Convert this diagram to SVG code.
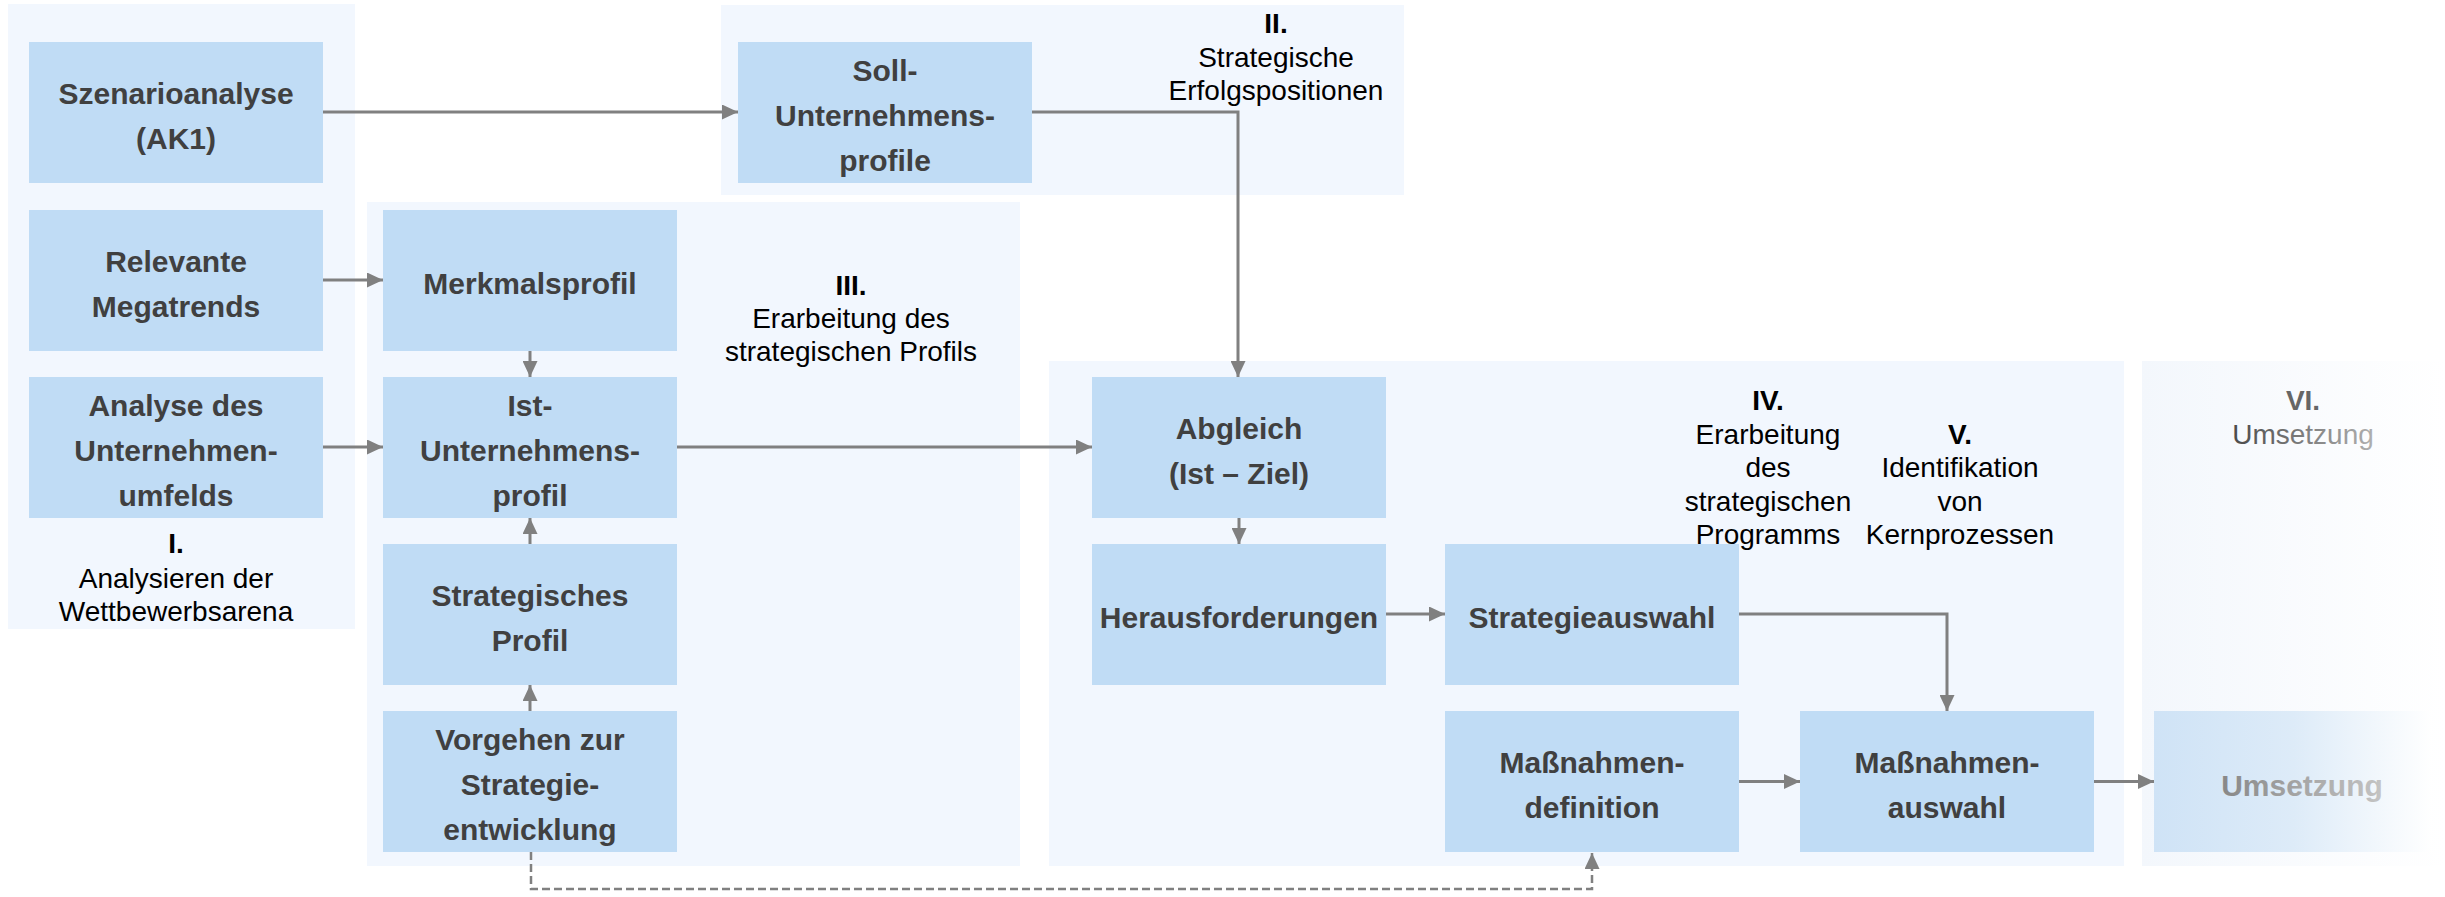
<svg xmlns="http://www.w3.org/2000/svg" width="2445" height="897" viewBox="0 0 2445 897">
<style>
.panel{fill:#F2F7FE}
.node{fill:#C0DCF5}
.nt{font-family:"Liberation Sans",Arial,sans-serif;font-weight:700;font-size:30px;fill:#404040;text-anchor:middle}
.lt{font-family:"Liberation Sans",Arial,sans-serif;font-size:28px;fill:#000;text-anchor:middle}
.lb{font-weight:700}
.conn{fill:none;stroke:#808080;stroke-width:3}
.dash{fill:none;stroke:#808080;stroke-width:2.5;stroke-dasharray:8 4}
</style>
<defs>
<marker id="ah" markerUnits="userSpaceOnUse" markerWidth="16" markerHeight="15" refX="16" refY="7.5" orient="auto">
<path d="M0,0 L16,7.5 L0,15 z" fill="#808080"/>
</marker>
<linearGradient id="gPanel" x1="0" y1="0" x2="1" y2="0">
<stop offset="0" stop-color="#F3F7FC"/>
<stop offset="1" stop-color="#FFFFFF"/>
</linearGradient>
<linearGradient id="gNode" x1="0" y1="0" x2="1" y2="0">
<stop offset="0" stop-color="#CFE3F6"/>
<stop offset="0.5" stop-color="#DDEBF8"/>
<stop offset="1" stop-color="#FFFFFF"/>
</linearGradient>
<linearGradient id="gText" x1="0" y1="0" x2="1" y2="0">
<stop offset="0" stop-color="#888888"/>
<stop offset="1" stop-color="#C4C4C4"/>
</linearGradient>
<linearGradient id="gLabel" x1="0" y1="0" x2="1" y2="0">
<stop offset="0" stop-color="#4A4A4A"/>
<stop offset="1" stop-color="#B0B0B0"/>
</linearGradient>
</defs>

<g id="panels">
<rect id="panel-I" class="panel" x="8" y="4" width="347" height="625"/>
<rect id="panel-II" class="panel" x="721" y="5" width="683" height="190"/>
<rect id="panel-III" class="panel" x="367" y="202" width="653" height="664"/>
<rect id="panel-IV-V" class="panel" x="1049" y="361" width="1075" height="505"/>
<rect id="panel-VI" x="2142" y="361" width="303" height="505" fill="url(#gPanel)"/>
</g>

<g id="connectors">
<path class="conn" d="M323,112 H738" marker-end="url(#ah)"/>
<path class="conn" d="M1032,112 H1238 V377" marker-end="url(#ah)"/>
<path class="conn" d="M323,280 H383" marker-end="url(#ah)"/>
<path class="conn" d="M323,447 H383" marker-end="url(#ah)"/>
<path class="conn" d="M530,351 V377" marker-end="url(#ah)"/>
<path class="conn" d="M530,544 V518" marker-end="url(#ah)"/>
<path class="conn" d="M530,711 V685" marker-end="url(#ah)"/>
<path class="conn" d="M677,447 H1092" marker-end="url(#ah)"/>
<path class="conn" d="M1239,518 V544" marker-end="url(#ah)"/>
<path class="conn" d="M1386,614 H1445" marker-end="url(#ah)"/>
<path class="conn" d="M1739,614 H1947 V711" marker-end="url(#ah)"/>
<path class="conn" d="M1739,781.5 H1800" marker-end="url(#ah)"/>
<path class="conn" d="M2094,781.5 H2154" marker-end="url(#ah)"/>
<path class="dash" d="M531,852 V889 H1592 V853" marker-end="url(#ah)"/>
</g>

<g id="n-szenario">
<rect class="node" x="29" y="42" width="294" height="141"/>
<text class="nt" x="176" y="103.5">Szenarioanalyse</text>
<text class="nt" x="176" y="148.5">(AK1)</text>
</g>
<g id="n-megatrends">
<rect class="node" x="29" y="210" width="294" height="141"/>
<text class="nt" x="176" y="271.5">Relevante</text>
<text class="nt" x="176" y="316.5">Megatrends</text>
</g>
<g id="n-umfeld">
<rect class="node" x="29" y="377" width="294" height="141"/>
<text class="nt" x="176" y="415.5">Analyse des</text>
<text class="nt" x="176" y="460.5">Unternehmen-</text>
<text class="nt" x="176" y="505.5">umfelds</text>
</g>
<g id="n-merkmal">
<rect class="node" x="383" y="210" width="294" height="141"/>
<text class="nt" x="530" y="293.5">Merkmalsprofil</text>
</g>
<g id="n-ist">
<rect class="node" x="383" y="377" width="294" height="141"/>
<text class="nt" x="530" y="415.5">Ist-</text>
<text class="nt" x="530" y="460.5">Unternehmens-</text>
<text class="nt" x="530" y="505.5">profil</text>
</g>
<g id="n-strprofil">
<rect class="node" x="383" y="544" width="294" height="141"/>
<text class="nt" x="530" y="605.5">Strategisches</text>
<text class="nt" x="530" y="650.5">Profil</text>
</g>
<g id="n-vorgehen">
<rect class="node" x="383" y="711" width="294" height="141"/>
<text class="nt" x="530" y="749.5">Vorgehen zur</text>
<text class="nt" x="530" y="794.5">Strategie-</text>
<text class="nt" x="530" y="839.5">entwicklung</text>
</g>
<g id="n-soll">
<rect class="node" x="738" y="42" width="294" height="141"/>
<text class="nt" x="885" y="80.5">Soll-</text>
<text class="nt" x="885" y="125.5">Unternehmens-</text>
<text class="nt" x="885" y="170.5">profile</text>
</g>
<g id="n-abgleich">
<rect class="node" x="1092" y="377" width="294" height="141"/>
<text class="nt" x="1239" y="438.5">Abgleich</text>
<text class="nt" x="1239" y="483.5">(Ist – Ziel)</text>
</g>
<g id="n-heraus">
<rect class="node" x="1092" y="544" width="294" height="141"/>
<text class="nt" x="1239" y="627.5">Herausforderungen</text>
</g>
<g id="n-strauswahl">
<rect class="node" x="1445" y="544" width="294" height="141"/>
<text class="nt" x="1592" y="627.5">Strategieauswahl</text>
</g>
<g id="n-massdef">
<rect class="node" x="1445" y="711" width="294" height="141"/>
<text class="nt" x="1592" y="772.5">Maßnahmen-</text>
<text class="nt" x="1592" y="817.5">definition</text>
</g>
<g id="n-massaus">
<rect class="node" x="1800" y="711" width="294" height="141"/>
<text class="nt" x="1947" y="772.5">Maßnahmen-</text>
<text class="nt" x="1947" y="817.5">auswahl</text>
</g>
<g id="n-umsetzung">
<rect x="2154" y="711" width="278" height="141" fill="url(#gNode)"/>
<text class="nt" x="2302" y="796" style="fill:url(#gText)">Umsetzung</text>
</g>

<g id="labels">
<text class="lt lb" x="176" y="553">I.</text>
<text class="lt" x="176" y="587.5">Analysieren der</text>
<text class="lt" x="176" y="621">Wettbewerbsarena</text>
<text class="lt lb" x="1276" y="33.3">II.</text>
<text class="lt" x="1276" y="66.7">Strategische</text>
<text class="lt" x="1276" y="100">Erfolgspositionen</text>
<text class="lt lb" x="851" y="294.7">III.</text>
<text class="lt" x="851" y="328">Erarbeitung des</text>
<text class="lt" x="851" y="361">strategischen Profils</text>
<text class="lt lb" x="1768" y="409.5">IV.</text>
<text class="lt" x="1768" y="443.5">Erarbeitung</text>
<text class="lt" x="1768" y="477">des</text>
<text class="lt" x="1768" y="510.5">strategischen</text>
<text class="lt" x="1768" y="544">Programms</text>
<text class="lt lb" x="1960" y="443.5">V.</text>
<text class="lt" x="1960" y="477">Identifikation</text>
<text class="lt" x="1960" y="510.5">von</text>
<text class="lt" x="1960" y="544">Kernprozessen</text>
<text class="lt lb" x="2303" y="409.5" style="fill:#666666">VI.</text>
<text class="lt" x="2303" y="443.5" style="fill:url(#gLabel)">Umsetzung</text>
</g>
</svg>
